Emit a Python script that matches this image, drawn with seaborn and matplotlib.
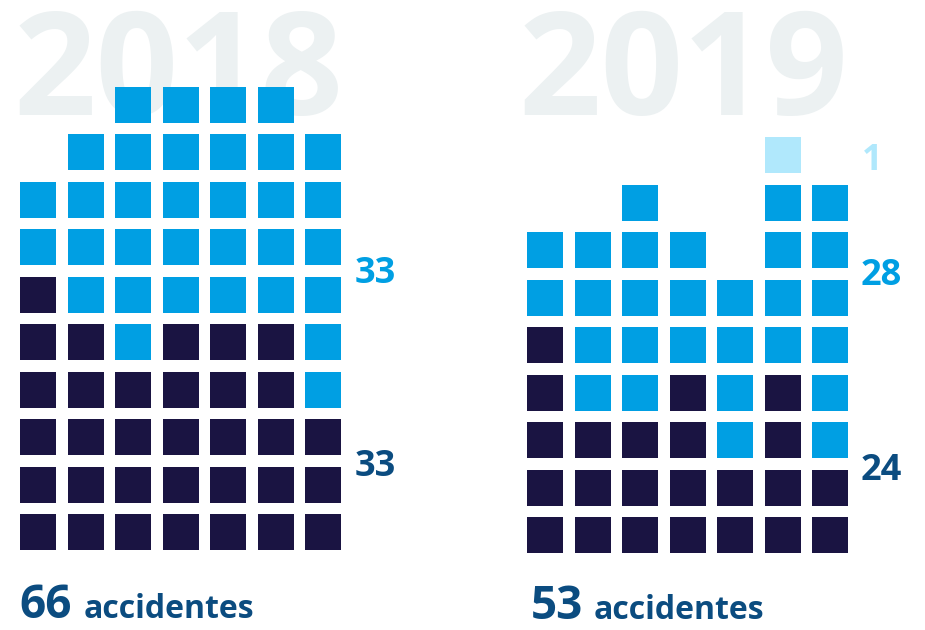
import pandas as pd
import numpy as np
import matplotlib.pyplot as plt
import seaborn as sns

# Grid cells read row by row from the top: D = dark, L = blue, P = pale blue, . = empty
grid_2018 = ["..LLLL.",
             ".LLLLLL",
             "LLLLLLL",
             "LLLLLLL",
             "DLLLLLL",
             "DDLDDDL",
             "DDDDDDL",
             "DDDDDDD",
             "DDDDDDD",
             "DDDDDDD"]
grid_2019 = [".......",
             ".....P.",
             "..L..LL",
             "LLLL.LL",
             "LLLLLLL",
             "DLLLLLL",
             "DLLDLDL",
             "DDDDLDL",
             "DDDDDDD",
             "DDDDDDD"]

years = ["2018", "2019"]
totals = ["66", "53"]
side_labels_2018 = ["33", "33"]
side_labels_2019 = ["1", "28", "24"]

colors = {"D": "#1a1442", "L": "#009fe3", "P": "#b0e8fc"}
label_dark = "#0b4c80"
year_grey = "#ecf1f2"

sns.set_theme(style="white")
plt.rcParams['font.family'] = ['Open Sans', 'DejaVu Sans']

W, H = 925, 630
fig = plt.figure(figsize=(W / 100, H / 100), dpi=100)

# background layer in pixel coordinates for all the text
bg = fig.add_axes([0, 0, 1, 1])
bg.set_xlim(0, W)
bg.set_ylim(H, 0)
bg.axis("off")

bg.text(14, 115, years[0], fontsize=104, fontweight="bold", color=year_grey, va="baseline")
bg.text(519, 115, years[1], fontsize=104, fontweight="bold", color=year_grey, va="baseline")

bg.text(355, 283, side_labels_2018[0], fontsize=26, fontweight="bold", color=colors["L"], va="baseline")
bg.text(355, 476, side_labels_2018[1], fontsize=26, fontweight="bold", color=label_dark, va="baseline")
bg.text(862, 170, side_labels_2019[0], fontsize=26, fontweight="bold", color=colors["P"], va="baseline")
bg.text(861, 285, side_labels_2019[1], fontsize=26, fontweight="bold", color=colors["L"], va="baseline")
bg.text(861, 480, side_labels_2019[2], fontsize=26, fontweight="bold", color=label_dark, va="baseline")

bg.text(19, 618, totals[0], fontsize=33, fontweight="bold", color=label_dark, va="baseline")
bg.text(84, 618, "accidentes", fontsize=23, fontweight="bold", color=label_dark, va="baseline")
bg.text(531, 619, totals[1], fontsize=33, fontweight="bold", color=label_dark, va="baseline")
bg.text(594, 619, "accidentes", fontsize=23, fontweight="bold", color=label_dark, va="baseline")


def grid_frame(rows):
    recs = []
    for r, line in enumerate(rows):
        for c, ch in enumerate(line):
            if ch != ".":
                recs.append({"col": c, "row": r, "kind": ch})
    return pd.DataFrame(recs)


pitch = 47.5
square_pt = 36 * 72 / 100


def draw_grid(rows, left_px, top_px):
    df = grid_frame(rows)
    ax = fig.add_axes([left_px / W, 1 - (top_px + 10 * pitch) / H, 7 * pitch / W, 10 * pitch / H])
    ax.set_facecolor("none")
    sns.scatterplot(data=df, x="col", y="row", hue="kind", palette=colors, marker="s",
                    s=square_pt ** 2, linewidth=0, legend=False, ax=ax)
    ax.set_xlim(-0.5, 6.5)
    ax.set_ylim(9.5, -0.5)
    ax.axis("off")


draw_grid(grid_2018, 14.25, 81.25)
draw_grid(grid_2019, 521.25, 84.0)

fig.savefig("out.png", dpi=100)
